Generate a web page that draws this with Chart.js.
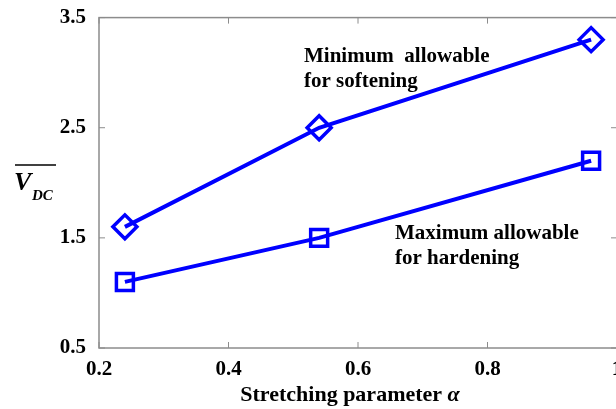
<!DOCTYPE html>
<html>
<head>
<meta charset="utf-8">
<script src="https://cdn.jsdelivr.net/npm/chart.js@4.4.1/dist/chart.umd.min.js"></script>
<style>
  html, body { margin: 0; padding: 0; background: #fff; overflow: hidden; }
  #wrap { width: 640px; height: 409px; }
</style>
</head>
<body>
<div id="wrap"><canvas id="chart" width="640" height="409"></canvas></div>
<script>
// --- Data ---
const alphaValues = [0.24, 0.54, 0.96];
const softeningMin = [1.6, 2.5, 3.3];
const hardeningMax = [1.1, 1.5, 2.2];
const xTicks = [0.2, 0.4, 0.6, 0.8, 1];
const yTicks = [0.5, 1.5, 2.5, 3.5];

const BLUE = '#0000ff';
const AXIS = '#8c8c8c';
const SERIF = '"Liberation Serif", "Times New Roman", serif';

function toPoints(ys) {
    return alphaValues.map((x, i) => ({ x: x, y: ys[i] }));
}

// box around the plot with MATLAB style inward ticks
const boxPlugin = {
    id: 'box',
    afterDraw(chart) {
        const { ctx, chartArea: a, scales } = chart;
        const len = 6;
        ctx.save();
        ctx.strokeStyle = AXIS;
        ctx.lineWidth = 1.5;
        ctx.strokeRect(a.left, a.top, a.right - a.left, a.bottom - a.top);
        ctx.lineWidth = 1;
        ctx.beginPath();
        xTicks.forEach(v => {
            const px = scales.x.getPixelForValue(v);
            ctx.moveTo(px, a.bottom); ctx.lineTo(px, a.bottom - len);
            ctx.moveTo(px, a.top); ctx.lineTo(px, a.top + len);
        });
        yTicks.forEach(v => {
            const py = scales.y.getPixelForValue(v);
            ctx.moveTo(a.left, py); ctx.lineTo(a.left + len, py);
            ctx.moveTo(a.right, py); ctx.lineTo(a.right - len, py);
        });
        ctx.stroke();
        ctx.restore();
    }
};

// axis titles and the two notes
const textPlugin = {
    id: 'texts',
    afterDraw(chart) {
        const { ctx } = chart;
        ctx.save();
        ctx.fillStyle = '#000';
        ctx.textBaseline = 'alphabetic';
        ctx.textAlign = 'left';

        // y axis title: V_DC with overline
        ctx.font = 'italic bold 26px ' + SERIF;
        ctx.fillText('V', 14, 190);
        ctx.font = 'italic bold 15px ' + SERIF;
        ctx.fillText('DC', 32, 200);
        ctx.strokeStyle = '#000';
        ctx.lineWidth = 1.5;
        ctx.beginPath();
        ctx.moveTo(15, 165);
        ctx.lineTo(56, 165);
        ctx.stroke();

        // x axis title, alpha in italic
        const t1 = 'Stretching parameter ';
        ctx.font = 'bold 22px ' + SERIF;
        const w1 = ctx.measureText(t1).width;
        ctx.font = 'italic bold 22px ' + SERIF;
        const w2 = ctx.measureText('\u03b1').width;
        let x0 = 350 - (w1 + w2) / 2;
        ctx.font = 'bold 22px ' + SERIF;
        ctx.fillText(t1, x0, 401);
        ctx.font = 'italic bold 22px ' + SERIF;
        ctx.fillText('\u03b1', x0 + w1, 401);

        // notes
        ctx.font = 'bold 21px ' + SERIF;
        ctx.fillText('Minimum  allowable', 304, 62);
        ctx.fillText('for softening', 304, 87);
        ctx.fillText('Maximum allowable', 395, 239);
        ctx.fillText('for hardening', 395, 264);
        ctx.restore();
    }
};

const fmt = v => String(Number(v.toFixed(1)));

new Chart(document.getElementById('chart').getContext('2d'), {
    type: 'line',
    data: {
        datasets: [
            {
                label: 'Minimum allowable for softening',
                data: toPoints(softeningMin),
                borderColor: BLUE,
                backgroundColor: 'rgba(0,0,0,0)',
                borderWidth: 4,
                pointStyle: 'rectRot',
                pointRadius: 12,
                pointBorderWidth: 3.5,
                pointBorderColor: BLUE,
                pointBackgroundColor: 'rgba(0,0,0,0)',
                tension: 0
            },
            {
                label: 'Maximum allowable for hardening',
                data: toPoints(hardeningMax),
                borderColor: BLUE,
                backgroundColor: 'rgba(0,0,0,0)',
                borderWidth: 4,
                pointStyle: 'rect',
                pointRadius: 12,
                pointBorderWidth: 3.5,
                pointBorderColor: BLUE,
                pointBackgroundColor: 'rgba(0,0,0,0)',
                tension: 0
            }
        ]
    },
    options: {
        responsive: false,
        animation: false,
        layout: { padding: { left: 0, top: 17, right: 23, bottom: 0 } },
        plugins: {
            legend: { display: false },
            tooltip: { enabled: false }
        },
        scales: {
            x: {
                type: 'linear',
                min: 0.2,
                max: 1,
                grid: { display: false },
                border: { display: false },
                afterFit: s => { s.height = 61; },
                ticks: {
                    stepSize: 0.2,
                    maxRotation: 0,
                    padding: 1,
                    color: '#000',
                    font: { family: SERIF, size: 21, weight: 'bold' },
                    callback: v => fmt(v)
                }
            },
            y: {
                min: 0.5,
                max: 3.5,
                grid: { display: false },
                border: { display: false },
                afterFit: s => { s.width = 99; },
                ticks: {
                    stepSize: 1,
                    padding: 5,
                    color: '#000',
                    font: { family: SERIF, size: 21, weight: 'bold' },
                    callback: v => v.toFixed(1)
                }
            }
        }
    },
    plugins: [boxPlugin, textPlugin]
});
</script>
</body>
</html>
